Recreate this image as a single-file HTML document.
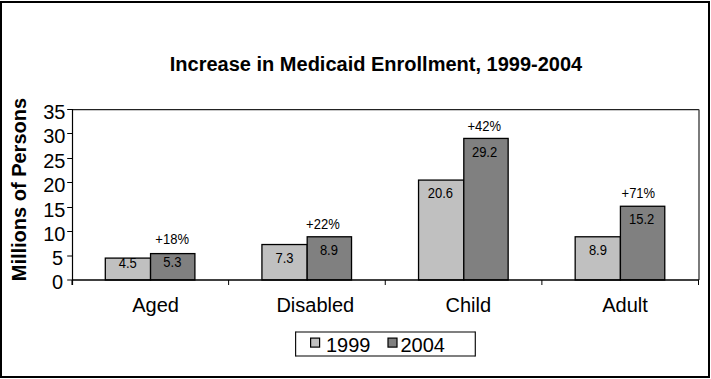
<!DOCTYPE html>
<html><head><meta charset="utf-8"><style>
html,body{margin:0;padding:0;background:#fff;width:711px;height:379px;overflow:hidden}
svg{display:block}
text{font-family:"Liberation Sans",sans-serif;fill:#000}
.t20{font-size:20px}
.b20{font-size:20px;font-weight:bold}
.t13{font-size:13px}
</style></head><body>
<svg width="711" height="379" viewBox="0 0 711 379">
<rect x="1" y="2" width="708" height="375" fill="#fff" stroke="#000" stroke-width="2"/>
<path d="M72.0 109.6H699.0" fill="none" stroke="#222" stroke-width="1.2"/>
<path d="M699.0 109.6V280.0" fill="none" stroke="#444" stroke-width="1.4"/>
<rect x="105.30" y="258.10" width="45.25" height="21.90" fill="#C0C0C0" stroke="#000" stroke-width="1.3"/>
<rect x="150.55" y="253.60" width="44.35" height="26.40" fill="#808080" stroke="#000" stroke-width="1.3"/>
<rect x="261.93" y="244.53" width="45.25" height="35.47" fill="#C0C0C0" stroke="#000" stroke-width="1.3"/>
<rect x="307.18" y="236.78" width="44.35" height="43.22" fill="#808080" stroke="#000" stroke-width="1.3"/>
<rect x="418.55" y="180.09" width="45.25" height="99.91" fill="#C0C0C0" stroke="#000" stroke-width="1.3"/>
<rect x="463.80" y="138.43" width="44.35" height="141.57" fill="#808080" stroke="#000" stroke-width="1.3"/>
<rect x="575.17" y="236.78" width="45.25" height="43.22" fill="#C0C0C0" stroke="#000" stroke-width="1.3"/>
<rect x="620.42" y="206.26" width="44.35" height="73.74" fill="#808080" stroke="#000" stroke-width="1.3"/>
<path d="M72.5 109V285.0" stroke="#000" stroke-width="1.2" fill="none"/>
<path d="M72.0 280.0H699.0" stroke="#000" stroke-width="1.6" fill="none"/>
<path d="M67.2 280H72.0" stroke="#000" stroke-width="1"/>
<path d="M67.2 256H72.0" stroke="#000" stroke-width="1"/>
<path d="M67.2 231.5H72.0" stroke="#000" stroke-width="1"/>
<path d="M67.2 207.5H72.0" stroke="#000" stroke-width="1"/>
<path d="M67.2 182.5H72.0" stroke="#000" stroke-width="1"/>
<path d="M67.2 158.5H72.0" stroke="#000" stroke-width="1"/>
<path d="M67.2 133.5H72.0" stroke="#000" stroke-width="1"/>
<path d="M67.2 109.5H72.0" stroke="#000" stroke-width="1"/>
<path d="M72.00 280.0V285.0" stroke="#000" stroke-width="1"/>
<path d="M228.62 280.0V285.0" stroke="#000" stroke-width="1"/>
<path d="M385.25 280.0V285.0" stroke="#000" stroke-width="1"/>
<path d="M541.88 280.0V285.0" stroke="#000" stroke-width="1"/>
<path d="M698.50 280.0V285.0" stroke="#000" stroke-width="1"/>
<text transform="translate(63 289.3) scale(1 1.0)" text-anchor="end" class="t20">0</text>
<text transform="translate(63 265.3) scale(1 1.0)" text-anchor="end" class="t20">5</text>
<text transform="translate(65.5 240.8) scale(1 1.0)" text-anchor="end" class="t20">10</text>
<text transform="translate(65.5 216.8) scale(1 1.0)" text-anchor="end" class="t20">15</text>
<text transform="translate(65.5 191.8) scale(1 1.0)" text-anchor="end" class="t20">20</text>
<text transform="translate(65.5 167.8) scale(1 1.0)" text-anchor="end" class="t20">25</text>
<text transform="translate(65.5 142.8) scale(1 1.0)" text-anchor="end" class="t20">30</text>
<text transform="translate(65.5 118.8) scale(1 1.0)" text-anchor="end" class="t20">35</text>
<text transform="translate(376 70.7) scale(1 1.0)" text-anchor="middle" class="b20">Increase in Medicaid Enrollment, 1999-2004</text>
<text transform="translate(26.2 189.6) rotate(-90) scale(1 1.0)" text-anchor="middle" class="b20">Millions of Persons</text>
<text transform="translate(155.55 312.3) scale(1 1.0)" text-anchor="middle" class="t20">Aged</text>
<text transform="translate(315.3 312.3) scale(1 1.0)" text-anchor="middle" class="t20">Disabled</text>
<text transform="translate(468.3 312.3) scale(1 1.0)" text-anchor="middle" class="t20">Child</text>
<text transform="translate(625.0 312.3) scale(1 1.0)" text-anchor="middle" class="t20">Adult</text>
<text transform="translate(127.8 267.6) scale(1 1.08)" text-anchor="middle" class="t13">4.5</text>
<text transform="translate(172.35 267.4) scale(1 1.08)" text-anchor="middle" class="t13">5.3</text>
<text transform="translate(284.5 262.8) scale(1 1.08)" text-anchor="middle" class="t13">7.3</text>
<text transform="translate(328.9 254.9) scale(1 1.08)" text-anchor="middle" class="t13">8.9</text>
<text transform="translate(440.35 198) scale(1 1.08)" text-anchor="middle" class="t13">20.6</text>
<text transform="translate(484.55 156.7) scale(1 1.08)" text-anchor="middle" class="t13">29.2</text>
<text transform="translate(597.9 255) scale(1 1.08)" text-anchor="middle" class="t13">8.9</text>
<text transform="translate(641.65 223.5) scale(1 1.08)" text-anchor="middle" class="t13">15.2</text>
<text transform="translate(172.15 243.7) scale(1 1.08)" text-anchor="middle" class="t13">+18%</text>
<text transform="translate(322.9 229) scale(1 1.08)" text-anchor="middle" class="t13">+22%</text>
<text transform="translate(484.25 131.1) scale(1 1.08)" text-anchor="middle" class="t13">+42%</text>
<text transform="translate(638.35 197.8) scale(1 1.08)" text-anchor="middle" class="t13">+71%</text>
<path d="M295.6 332H475.3M295.6 356H475.3" stroke="#555" stroke-width="1.3" fill="none"/>
<path d="M295.6 331.4V356.6M475.3 331.4V356.6" stroke="#111" stroke-width="1.2" fill="none"/>
<rect x="310.6" y="338.1" width="9" height="9" fill="#C0C0C0" stroke="#000" stroke-width="1.2"/>
<rect x="388" y="338.1" width="9" height="9" fill="#808080" stroke="#000" stroke-width="1.2"/>
<text transform="translate(326 351.7) scale(1 1.0)" text-anchor="start" class="t20">1999</text>
<text transform="translate(400.5 351.7) scale(1 1.0)" text-anchor="start" class="t20">2004</text>
</svg>
</body></html>
